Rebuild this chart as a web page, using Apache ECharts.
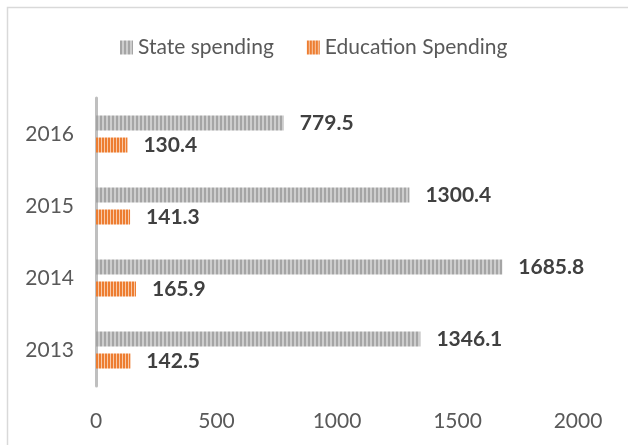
<!DOCTYPE html>
<html>
<head>
<meta charset="utf-8">
<script src="https://cdn.jsdelivr.net/npm/echarts@6/dist/echarts.min.js"></script>
<style>
  html, body { margin: 0; padding: 0; background: #fff; }
  #chart { width: 628px; height: 445px; }
</style>
</head>
<body>
<div id="chart"></div>
<script>
// values
var years = ['2013', '2014', '2015', '2016'];
var stateSpending = [1346.1, 1685.8, 1300.4, 779.5];
var educationSpending = [142.5, 165.9, 141.3, 130.4];
var xTicks = [0, 500, 1000, 1500, 2000];

// vertical stripe fill like the office pattern
function stripes(dark, light, wDark, wLight) {
    var c = document.createElement('canvas');
    c.width = wDark + wLight;
    c.height = 4;
    var ctx = c.getContext('2d');
    ctx.fillStyle = dark;
    ctx.fillRect(0, 0, wDark, 4);
    ctx.fillStyle = light;
    ctx.fillRect(wDark, 0, wLight, 4);
    return { image: c, repeat: 'repeat' };
}

var grayFill = stripes('#a5a5a5', '#cdcdcd', 2, 2);
var orangeFill = stripes('#ed7d31', '#f8c9a8', 2, 1);

var labelStyle = {
    show: true,
    position: 'right',
    distance: 16,
    color: '#404040',
    fontWeight: 'bold',
    fontSize: 21,
    fontFamily: 'Lato'
};

var chart = echarts.init(document.getElementById('chart'));
chart.setOption({
    animation: false,
    textStyle: { fontFamily: 'Lato' },
    graphic: [{
        type: 'rect',
        shape: { x: 7.5, y: 7.5, width: 700, height: 500 },
        style: { fill: 'none', stroke: '#d9d9d9', lineWidth: 1.5 },
        silent: true
    }],
    legend: {
        data: ['State spending', 'Education Spending'],
        left: 115,
        top: 32,
        itemWidth: 13,
        itemHeight: 14,
        itemGap: 33,
        icon: 'rect',
        textStyle: { color: '#595959', fontSize: 21, fontFamily: 'Lato' }
    },
    grid: { left: 96, right: 50, top: 98, bottom: 59 },
    xAxis: {
        type: 'value',
        min: xTicks[0],
        max: xTicks[xTicks.length - 1],
        interval: 500,
        axisLine: { show: false },
        axisTick: { show: false },
        splitLine: { show: false },
        axisLabel: {
            color: '#595959', fontSize: 21, margin: 25, fontFamily: 'Lato',
            formatter: function (v) { return String(v); }
        }
    },
    yAxis: {
        type: 'category',
        data: years,
        axisLine: { show: true, lineStyle: { color: '#bfbfbf', width: 3 } },
        axisTick: { show: false },
        axisLabel: { color: '#595959', fontSize: 21, margin: 22, fontFamily: 'Lato' }
    },
    series: [
        {
            name: 'State spending',
            type: 'bar',
            data: stateSpending,
            barWidth: 15,
            barGap: '47%',
            itemStyle: { color: grayFill },
            label: labelStyle
        },
        {
            name: 'Education Spending',
            type: 'bar',
            data: educationSpending,
            barWidth: 15,
            barGap: '47%',
            itemStyle: { color: orangeFill },
            label: labelStyle
        }
    ]
});
</script>
</body>
</html>
